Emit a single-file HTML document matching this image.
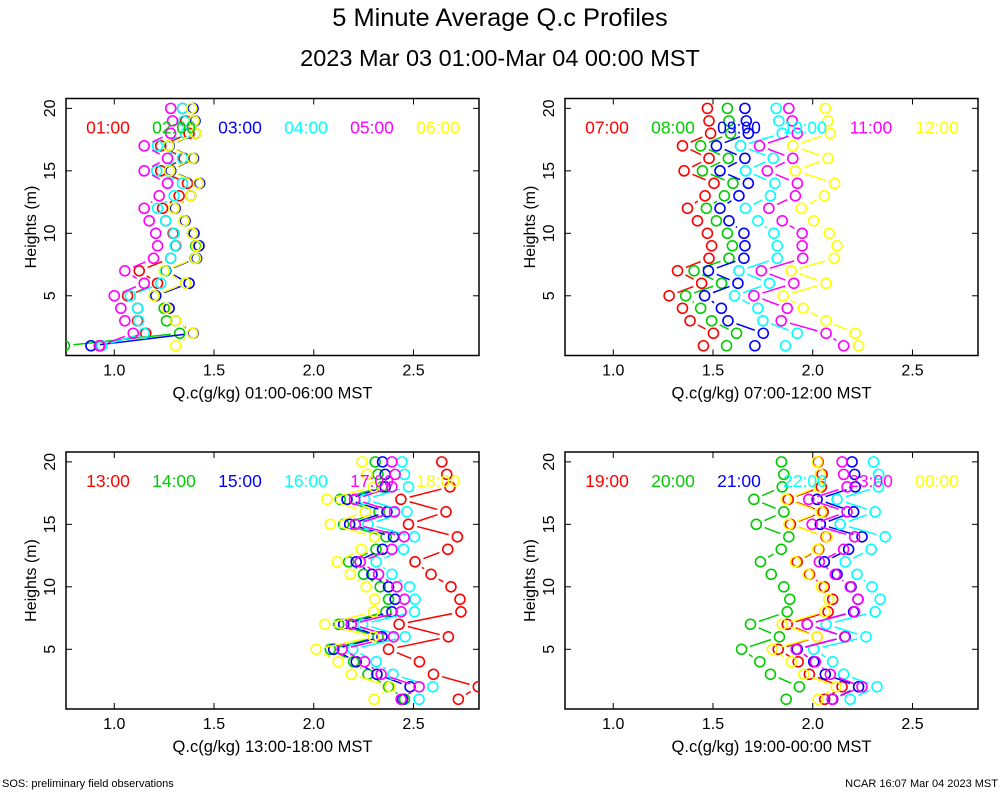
<!DOCTYPE html>
<html><head><meta charset="utf-8"><style>
body{margin:0;background:#fff;}
svg{display:block;font-family:"Liberation Sans",sans-serif;}
</style></head><body>
<svg id="c" width="1000" height="800" viewBox="0 0 1000 800">
<text x="500" y="26" font-size="25.4" text-anchor="middle">5 Minute Average Q.c Profiles</text>
<text x="500" y="66" font-size="23.5" text-anchor="middle">2023 Mar 03 01:00-Mar 04 00:00 MST</text>
<text x="2" y="787" font-size="11">SOS: preliminary field observations</text>
<text x="998" y="787" font-size="11" text-anchor="end">NCAR 16:07 Mar 04 2023 MST</text>
</svg>
<script>
const heights=[1,2,3,4,5,6,7,8,9,10,11,12,13,14,15,16,17,18,19,20];
const xTicks=[1.0,1.5,2.0,2.5];
const xTickLabels=["1.0","1.5","2.0","2.5"];
const yTicks=[5,10,15,20];
const hours=["01:00","02:00","03:00","04:00","05:00","06:00","07:00","08:00","09:00","10:00","11:00","12:00","13:00","14:00","15:00","16:00","17:00","18:00","19:00","20:00","21:00","22:00","23:00","00:00"];
const panelTitles=["Q.c(g/kg) 01:00-06:00 MST","Q.c(g/kg) 07:00-12:00 MST","Q.c(g/kg) 13:00-18:00 MST","Q.c(g/kg) 19:00-00:00 MST"];
const colors=["#ff0000","#00cc00","#0000ff","#00ffff","#ff00ff","#ffff00"];
const q01=[0.925,1.158,1.117,1.117,1.067,1.217,1.125,1.283,1.308,1.295,1.258,1.242,1.325,1.367,1.233,1.35,1.233,1.375,1.358,1.342];
const q02=[0.75,1.328,1.262,1.25,1.2,1.358,1.255,1.405,1.408,1.392,1.35,1.3,1.383,1.425,1.283,1.392,1.275,1.408,1.4,1.392];
const q03=[0.883,1.395,1.308,1.275,1.208,1.375,1.258,1.413,1.425,1.4,1.355,1.305,1.383,1.428,1.283,1.397,1.275,1.408,1.405,1.395];
const q04=[0.938,1.15,1.122,1.117,1.08,1.233,1.255,1.283,1.305,1.3,1.258,1.217,1.3,1.342,1.213,1.342,1.217,1.358,1.35,1.342];
const q05=[0.928,1.095,1.053,1.033,1.0,1.15,1.053,1.197,1.217,1.208,1.175,1.15,1.225,1.267,1.15,1.267,1.15,1.283,1.292,1.283];
const q06=[1.308,1.392,1.308,1.262,1.2,1.358,1.25,1.408,1.413,1.392,1.35,1.3,1.383,1.422,1.278,1.392,1.272,1.408,1.4,1.388];
const q07=[1.452,1.502,1.385,1.347,1.28,1.443,1.322,1.48,1.493,1.472,1.422,1.372,1.46,1.505,1.355,1.48,1.347,1.488,1.48,1.472];
const q08=[1.568,1.618,1.493,1.438,1.363,1.543,1.405,1.58,1.597,1.572,1.517,1.467,1.557,1.6,1.447,1.577,1.438,1.588,1.58,1.572];
const q09=[1.71,1.752,1.575,1.542,1.458,1.625,1.477,1.655,1.66,1.655,1.58,1.535,1.63,1.677,1.535,1.66,1.517,1.677,1.667,1.66];
const q10=[1.863,1.922,1.75,1.725,1.608,1.783,1.63,1.822,1.822,1.805,1.725,1.663,1.788,1.81,1.663,1.802,1.638,1.847,1.83,1.817];
const q11=[2.155,2.067,1.842,1.872,1.705,1.905,1.742,1.95,1.947,1.947,1.847,1.78,1.913,1.923,1.772,1.9,1.733,1.922,1.897,1.88];
const q12=[2.23,2.213,2.067,1.952,1.852,2.067,1.892,2.108,2.122,2.083,2.005,1.943,2.058,2.11,1.913,2.077,1.9,2.088,2.077,2.063];
const q13=[2.725,2.825,2.6,2.53,2.375,2.675,2.428,2.738,2.733,2.688,2.588,2.508,2.672,2.72,2.475,2.663,2.437,2.683,2.667,2.642];
const q14=[2.455,2.375,2.272,2.2,2.083,2.322,2.125,2.362,2.375,2.333,2.25,2.175,2.312,2.363,2.15,2.328,2.133,2.342,2.322,2.308];
const q15=[2.445,2.483,2.317,2.213,2.1,2.342,2.15,2.392,2.408,2.375,2.292,2.213,2.345,2.4,2.18,2.367,2.167,2.358,2.358,2.345];
const q16=[2.528,2.597,2.397,2.313,2.195,2.458,2.245,2.505,2.508,2.48,2.392,2.313,2.45,2.505,2.272,2.467,2.255,2.475,2.455,2.442];
const q17=[2.438,2.528,2.338,2.255,2.142,2.4,2.188,2.438,2.455,2.417,2.325,2.233,2.392,2.453,2.208,2.405,2.205,2.392,2.408,2.392];
const q18=[2.303,2.383,2.188,2.122,2.012,2.3,2.055,2.3,2.305,2.263,2.183,2.117,2.238,2.305,2.083,2.258,2.067,2.3,2.267,2.242];
const q19=[2.06,2.147,1.983,1.927,1.827,2.022,1.872,2.077,2.1,2.058,1.983,1.922,2.03,2.067,1.888,2.052,1.877,2.043,2.047,2.027];
const q20=[1.867,1.933,1.788,1.735,1.643,1.833,1.688,1.872,1.885,1.855,1.792,1.738,1.842,1.88,1.717,1.855,1.705,1.847,1.855,1.843];
const q21=[2.1,2.23,2.063,2.005,1.922,2.163,1.972,2.205,2.227,2.192,2.122,2.058,2.18,2.247,2.038,2.205,2.022,2.213,2.21,2.197];
const q22=[2.188,2.322,2.155,2.1,2.005,2.267,2.067,2.313,2.338,2.297,2.222,2.163,2.293,2.363,2.138,2.313,2.122,2.33,2.33,2.305];
const q23=[2.097,2.247,2.088,2.013,1.917,2.16,1.972,2.21,2.227,2.188,2.113,2.033,2.155,2.21,1.997,2.172,1.98,2.172,2.155,2.147];
const q24=[2.027,2.117,1.955,1.893,1.797,2.022,1.847,2.06,2.08,2.043,1.977,1.913,2.025,2.072,1.88,2.043,1.867,2.03,2.038,2.022];
const series=[q01,q02,q03,q04,q05,q06,q07,q08,q09,q10,q11,q12,q13,q14,q15,q16,q17,q18,q19,q20,q21,q22,q23,q24];

const NS="http://www.w3.org/2000/svg";
const svg=document.getElementById('c');
const XMIN=0.758,XMAX=2.8285,YMIN=0.22,YMAX=20.79;
const panels=[{l:66,t:98.5},{l:565,t:98.5},{l:66,t:452},{l:565,t:452}];
const PW=413,PH=257;
function mk(tag,attrs,parent){const e=document.createElementNS(NS,tag);for(const k in attrs)e.setAttribute(k,attrs[k]);(parent||svg).appendChild(e);return e;}
panels.forEach((p,pi)=>{
  const g=mk('g',{});
  
  
  const sx=v=>p.l+(v-XMIN)/(XMAX-XMIN)*PW;
  const sy=h=>p.t+PH-(h-YMIN)/(YMAX-YMIN)*PH;
  const cid='clip'+pi;
  const cp=mk('clipPath',{id:cid},g);mk('rect',{x:p.l,y:p.t,width:PW,height:PH},cp);
  const frame=mk('rect',{x:p.l,y:p.t,width:PW,height:PH,fill:'none',stroke:'#000','stroke-width':1.5},g);
  
  
  xTicks.forEach((v,i)=>{
    const x=sx(v);
    mk('line',{x1:x,x2:x,y1:p.t+PH,y2:p.t+PH-6,stroke:'#000'},g);
    mk('line',{x1:x,x2:x,y1:p.t,y2:p.t+6,stroke:'#000'},g);
    const t=mk('text',{x:x,y:p.t+PH+20,'font-size':16,'text-anchor':'middle'},g);
    t.textContent=xTickLabels[i];
    
    
  });
  yTicks.forEach(h=>{
    const y=sy(h);
    mk('line',{x1:p.l,x2:p.l+6,y1:y,y2:y,stroke:'#000'},g);
    mk('line',{x1:p.l+PW,x2:p.l+PW-6,y1:y,y2:y,stroke:'#000'},g);
    const t=mk('text',{x:p.l-11,y:y,'font-size':16,'text-anchor':'middle',transform:`rotate(-90 ${p.l-11} ${y})`},g);
    t.textContent=String(h);
    
    
  });
  const yt=mk('text',{x:p.l-30,y:p.t+PH/2,'font-size':16,'text-anchor':'middle',transform:`rotate(-90 ${p.l-30} ${p.t+PH/2})`},g);
  yt.textContent='Heights (m)';
  
  
  const xt=mk('text',{x:p.l+PW/2,y:p.t+PH+43,'font-size':16.5,'text-anchor':'middle'},g);
  xt.textContent=panelTitles[pi];
  
  
  const dg=mk('g',{'clip-path':`url(#${cid})`},g);
  for(let s=0;s<6;s++){
    const idx=pi*6+s, vals=series[idx], col=colors[s];
    const sg=mk('g',{},dg);
    
    
    for(let i=0;i<vals.length-1;i++){
      const x1=sx(vals[i]),y1=sy(heights[i]),x2=sx(vals[i+1]),y2=sy(heights[i+1]);
      const dx=x2-x1,dy=y2-y1,L=Math.hypot(dx,dy),r=9;
      if(L>2*r+1){
        const seg=mk('line',{x1:x1+dx/L*r,y1:y1+dy/L*r,x2:x2-dx/L*r,y2:y2-dy/L*r,stroke:col,'stroke-width':1.5},sg);
        
        
      }
    }
    vals.forEach((v,i)=>{
      const c=mk('circle',{cx:sx(v),cy:sy(heights[i]),r:5,fill:'none',stroke:col,'stroke-width':1.6},sg);
      
      
    });
    const lt=mk('text',{x:p.l+42+s*66,y:p.t+35,'font-size':17.5,'text-anchor':'middle',fill:col},g);
    lt.textContent=hours[idx];
    
    
  }
});
</script>
</body></html>
